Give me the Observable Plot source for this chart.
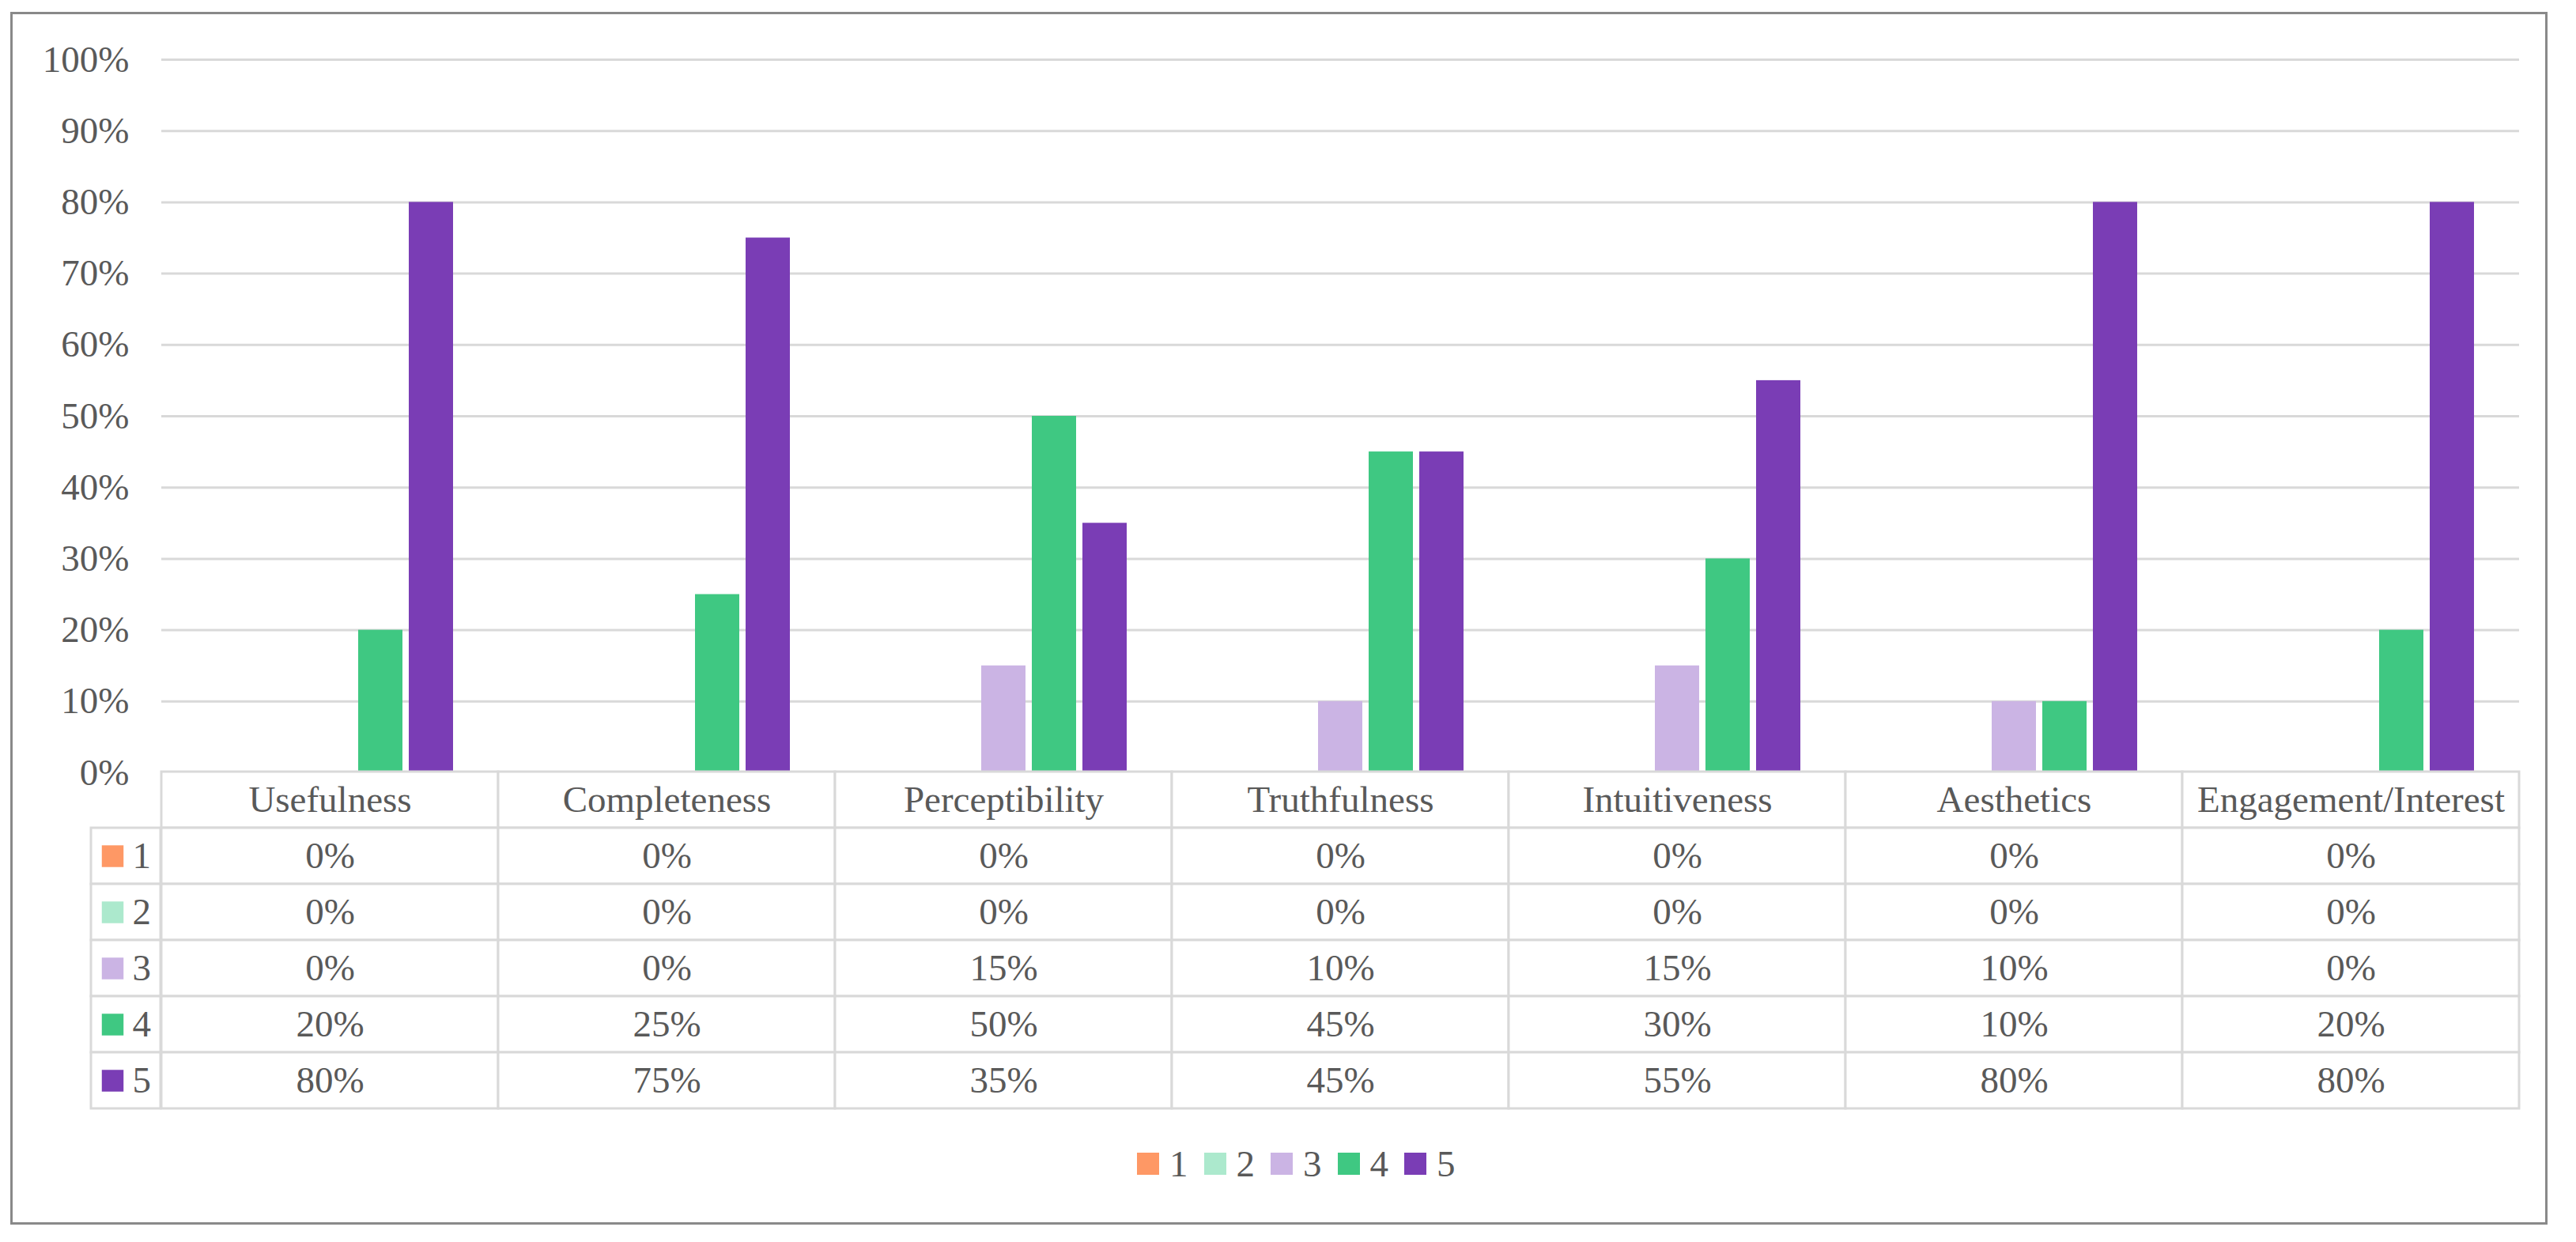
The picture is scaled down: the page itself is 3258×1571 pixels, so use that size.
<!DOCTYPE html>
<html>
<head>
<meta charset="utf-8">
<script src="https://cdn.jsdelivr.net/npm/d3@7"></script>
<script src="https://cdn.jsdelivr.net/npm/@observablehq/plot@0.6"></script>
<style>
  html, body { margin: 0; padding: 0; background: #fff; }
  #wrap { position: relative; width: 3258px; height: 1571px; background: #fff; overflow: hidden; }
  #frame { position: absolute; left: 13px; top: 15px; width: 3209px; height: 1534px; box-sizing: border-box; border: 3px solid #898989; }
  .abs { position: absolute; }
  #legend, #legend * { font-family: "Liberation Serif", "Times New Roman", serif !important; }
  .lg-swatches { font-size: 47px !important; color: #595959 !important; margin: 0 !important; }
  .lg-swatch { margin-right: 20px !important; }
  .lg-swatch > svg { margin-right: 13px !important; }
</style>
</head>
<body>
<div id="wrap">
  <div id="frame"></div>
  <div id="chart" class="abs" style="left:0;top:0"></div>
  <div id="table" class="abs" style="left:0;top:970px"></div>
  <div id="keys" class="abs" style="left:110px;top:970px"></div>
  <div id="legend" class="abs" style="left:1438px;top:1445px"></div>
</div>
<script>
const categories = ["Usefulness", "Completeness", "Perceptibility", "Truthfulness", "Intuitiveness", "Aesthetics", "Engagement/Interest"];
const series = ["1", "2", "3", "4", "5"];
const colors = ["#FE9865", "#ACE9CD", "#CBB4E4", "#3FC882", "#7A3DB5"];
const s1 = [0, 0, 0, 0, 0, 0, 0];
const s2 = [0, 0, 0, 0, 0, 0, 0];
const s3 = [0, 0, 0.15, 0.10, 0.15, 0.10, 0];
const s4 = [0.20, 0.25, 0.50, 0.45, 0.30, 0.10, 0.20];
const s5 = [0.80, 0.75, 0.35, 0.45, 0.55, 0.80, 0.80];
const yTicks = [0, 0.1, 0.2, 0.3, 0.4, 0.5, 0.6, 0.7, 0.8, 0.9, 1.0];

const seriesValues = [s1, s2, s3, s4, s5];
const bars = series.flatMap((s, i) => categories.map((c, j) => ({category: c, series: s, value: seriesValues[i][j]})));
const fmt = d3.format(".0%");
const font = "'Liberation Serif', 'Times New Roman', serif";
const txt = "#595959";
const line = "#d9d9d9";
const W = 3258;
const rows = ["header", ...series];

const chart = Plot.plot({
  width: W, height: 1040,
  marginTop: 75, marginBottom: 63, marginLeft: 203, marginRight: 72,
  style: {background: "transparent", fontFamily: font, fontSize: "47px", color: txt, overflow: "visible"},
  fx: {domain: categories, padding: 0, axis: null},
  x: {domain: series, paddingInner: 0.125, paddingOuter: 0.89, axis: null},
  y: {domain: [0, 1], axis: null},
  color: {domain: series, range: colors},
  marks: [
    Plot.gridY(yTicks, {stroke: line, strokeOpacity: 1, strokeWidth: 3}),
    Plot.axisY(yTicks, {tickFormat: fmt, tickSize: 0, tickPadding: 41, fontSize: 47, fontFamily: font, fill: txt, label: null}),
    Plot.barY(bars.filter(d => d.value > 0), {fx: "category", x: "series", y: "value", fill: "series"})
  ]
});
document.getElementById("chart").append(chart);

const table = Plot.plot({
  width: W, height: 438,
  marginTop: 5, marginBottom: 5, marginLeft: 203, marginRight: 72,
  style: {background: "transparent", fontFamily: font, color: txt},
  x: {domain: categories, padding: 0, axis: null},
  y: {domain: rows, padding: 0, axis: null},
  marks: [
    Plot.cell(categories, {x: d => d, y: () => "header", fill: "white", stroke: line, strokeWidth: 3, inset: 0}),
    Plot.cell(bars, {x: "category", y: "series", fill: "white", stroke: line, strokeWidth: 3, inset: 0}),
    Plot.text(categories, {x: d => d, y: () => "header", text: d => d, fontSize: 47, fontFamily: font, fill: txt}),
    Plot.text(bars, {x: "category", y: "series", text: d => fmt(d.value), fontSize: 47, fontFamily: font, fill: txt})
  ]
});
document.getElementById("table").append(table);

const keys = Plot.plot({
  width: 98, height: 438,
  marginTop: 5, marginBottom: 5, marginLeft: 5, marginRight: 5,
  style: {background: "transparent", fontFamily: font, color: txt, overflow: "visible"},
  y: {domain: rows, padding: 0, axis: null},
  color: {domain: series, range: colors},
  marks: [
    Plot.cell(series, {y: d => d, fill: "white", stroke: line, strokeWidth: 3, inset: 0}),
    Plot.dot(series, {y: d => d, frameAnchor: "left", dx: 27, symbol: "square", r: 15.5, fill: d => d, stroke: null}),
    Plot.text(series, {y: d => d, text: d => d, frameAnchor: "left", dx: 52, textAnchor: "start", fontSize: 47, fontFamily: font, fill: txt})
  ]
});
document.getElementById("keys").append(keys);

const legend = Plot.legend({
  color: {type: "ordinal", domain: series, range: colors},
  legend: "swatches",
  swatchSize: 28,
  className: "lg",
  style: {fontFamily: font, fontSize: "47px", color: txt}
});
document.getElementById("legend").append(legend);
</script>
</body>
</html>
